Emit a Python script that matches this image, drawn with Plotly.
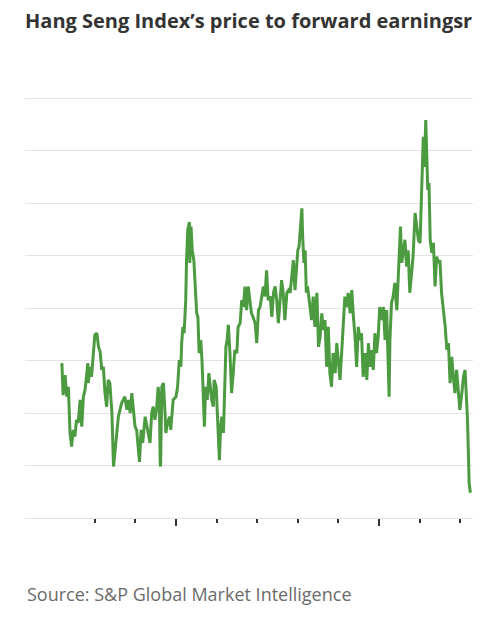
import pandas as pd
import plotly.graph_objects as go

# Hang Seng Index forward P/E (date as fractional year)
years = [
    2012.19, 2012.22, 2012.27, 2012.31, 2012.35, 2012.39, 2012.43, 2012.47, 2012.51, 2012.55,
    2012.59, 2012.64, 2012.68, 2012.72, 2012.76, 2012.80, 2012.83, 2012.84, 2012.88, 2012.92,
    2012.96, 2013.00, 2013.05, 2013.09, 2013.13, 2013.17, 2013.21, 2013.25, 2013.29, 2013.33,
    2013.37, 2013.42, 2013.46, 2013.50, 2013.54, 2013.58, 2013.62, 2013.66, 2013.70, 2013.74,
    2013.79, 2013.83, 2013.87, 2013.91, 2013.95, 2013.99, 2014.03, 2014.07, 2014.10, 2014.14,
    2014.18, 2014.24, 2014.28, 2014.32, 2014.36, 2014.40, 2014.44, 2014.48, 2014.52, 2014.56,
    2014.59, 2014.61, 2014.62, 2014.65, 2014.69, 2014.73, 2014.75, 2014.79, 2014.84, 2014.87,
    2014.91, 2014.93, 2015.00, 2015.04, 2015.08, 2015.12, 2015.14, 2015.17, 2015.20, 2015.24,
    2015.26, 2015.29, 2015.33, 2015.34, 2015.37, 2015.40, 2015.44, 2015.48, 2015.51, 2015.54,
    2015.57, 2015.61, 2015.64, 2015.67, 2015.70, 2015.73, 2015.77, 2015.81, 2015.85, 2015.88,
    2015.92, 2015.94, 2015.99, 2016.01, 2016.03, 2016.07, 2016.10, 2016.13, 2016.17, 2016.20,
    2016.23, 2016.26, 2016.29, 2016.33, 2016.37, 2016.41, 2016.45, 2016.50, 2016.53, 2016.58,
    2016.62, 2016.66, 2016.70, 2016.74, 2016.78, 2016.82, 2016.86, 2016.90, 2016.95, 2016.99,
    2017.03, 2017.07, 2017.11, 2017.15, 2017.19, 2017.23, 2017.27, 2017.32, 2017.36, 2017.40,
    2017.44, 2017.48, 2017.52, 2017.56, 2017.60, 2017.64, 2017.68, 2017.73, 2017.77, 2017.81,
    2017.85, 2017.89, 2017.93, 2017.97, 2018.00, 2018.03, 2018.07, 2018.10, 2018.12, 2018.15,
    2018.18, 2018.21, 2018.24, 2018.28, 2018.34, 2018.38, 2018.42, 2018.47, 2018.51, 2018.55,
    2018.59, 2018.63, 2018.67, 2018.71, 2018.75, 2018.79, 2018.83, 2018.87, 2018.92, 2018.96,
    2019.00, 2019.04, 2019.08, 2019.12, 2019.16, 2019.20, 2019.24, 2019.29, 2019.33, 2019.37,
    2019.41, 2019.45, 2019.49, 2019.53, 2019.57, 2019.61, 2019.66, 2019.70, 2019.74, 2019.78,
    2019.82, 2019.86, 2019.90, 2019.94, 2019.98, 2020.02, 2020.07, 2020.11, 2020.15, 2020.19,
    2020.23, 2020.25, 2020.27, 2020.31, 2020.35, 2020.39, 2020.44, 2020.48, 2020.53, 2020.56,
    2020.60, 2020.64, 2020.68, 2020.72, 2020.76, 2020.81, 2020.84, 2020.89, 2020.93, 2020.97,
    2021.01, 2021.05, 2021.09, 2021.12, 2021.15, 2021.17, 2021.20, 2021.23, 2021.26, 2021.30,
    2021.34, 2021.38, 2021.42, 2021.46, 2021.50, 2021.54, 2021.58, 2021.63, 2021.67, 2021.71,
    2021.75, 2021.79, 2021.83, 2021.87, 2021.91, 2021.95, 2021.99, 2022.04, 2022.08, 2022.12,
    2022.15, 2022.18, 2022.22, 2022.25,
]
pe = [
    8.95, 8.34, 8.72, 8.31, 8.50, 7.62, 7.36, 7.68, 7.55, 7.87,
    7.81, 8.25, 7.74, 8.31, 8.44, 8.76, 8.95, 8.57, 8.88, 8.69,
    9.01, 9.49, 9.52, 9.26, 9.17, 8.82, 8.88, 8.38, 8.12, 8.63,
    8.57, 8.00, 6.98, 7.30, 7.68, 7.93, 8.06, 8.19, 8.25, 8.31,
    8.06, 8.25, 8.00, 8.38, 8.06, 7.74, 7.68, 7.30, 7.07, 7.68,
    7.43, 7.93, 7.74, 7.62, 7.43, 8.00, 8.12, 7.87, 8.06, 8.50,
    8.25, 7.05, 6.98, 8.50, 8.57, 8.00, 7.62, 7.81, 7.93, 7.68,
    8.00, 8.25, 8.31, 8.50, 9.01, 8.88, 9.33, 9.64, 9.52, 10.15,
    10.91, 11.49, 11.64, 10.86, 11.55, 11.10, 10.91, 10.41, 9.90, 9.83,
    9.14, 9.39, 9.01, 8.38, 7.74, 8.50, 8.25, 8.76, 8.50, 8.25,
    8.12, 8.63, 8.50, 8.12, 7.74, 7.10, 7.74, 7.93, 7.62, 8.25,
    9.26, 9.39, 9.68, 9.14, 8.38, 8.76, 9.20, 9.14, 9.64, 9.71,
    10.15, 10.02, 10.41, 9.96, 10.41, 10.15, 9.90, 9.83, 9.71, 9.33,
    9.96, 10.02, 10.22, 10.41, 10.22, 10.72, 10.15, 10.22, 9.83, 10.29,
    10.41, 10.15, 9.71, 10.22, 10.53, 10.29, 9.77, 10.29, 10.34, 10.29,
    10.67, 10.91, 10.34, 10.79, 11.10, 11.17, 11.68, 11.90, 11.36, 10.86,
    11.10, 10.29, 10.41, 10.15, 9.77, 10.22, 9.64, 10.29, 9.26, 9.45,
    9.90, 9.58, 9.77, 8.88, 9.64, 8.76, 8.50, 9.14, 8.76, 9.33,
    8.88, 8.63, 9.14, 9.77, 10.22, 10.02, 10.29, 9.90, 10.34, 9.83,
    9.45, 8.88, 9.64, 9.39, 9.52, 8.69, 9.14, 8.63, 9.33, 8.88,
    9.20, 8.82, 9.52, 9.14, 9.45, 10.02, 9.77, 10.02, 9.39, 9.96,
    8.63, 8.31, 9.39, 10.10, 10.22, 10.48, 9.96, 10.72, 11.55, 10.86,
    11.05, 11.30, 10.79, 11.10, 10.29, 10.72, 10.98, 11.81, 11.55, 11.30,
    11.24, 12.31, 13.26, 12.69, 13.58, 13.07, 12.25, 12.38, 11.30, 11.05,
    11.24, 10.41, 10.98, 10.86, 10.91, 10.29, 10.02, 9.64, 9.20, 9.33,
    8.57, 9.07, 8.69, 8.38, 8.82, 8.50, 8.06, 8.38, 8.69, 8.82,
    8.25, 7.87, 6.67, 6.48,
]
tick_years = list(range(2013, 2023))
major_years = [2015, 2020]

GREEN = "#4c9b41"
GRID = "#e3e3e3"
FONT = "Open Sans"

# the page has an 8px body margin, so the figure is 8px smaller and margins shifted
W, H = 485, 610


def frac_to_date(y):
    yr = int(y)
    return pd.Timestamp(year=yr, month=1, day=1) + pd.Timedelta(days=(y - yr) * 365.25)


dates = [frac_to_date(y) for y in years]

fig = go.Figure(
    go.Scatter(
        x=dates,
        y=pe,
        mode="lines",
        line=dict(color=GREEN, width=3),
        hoverinfo="x+y",
    )
)

fig.update_layout(
    width=W,
    height=H,
    margin=dict(l=17, r=20, t=89, b=100),
    paper_bgcolor="white",
    plot_bgcolor="white",
    showlegend=False,
    font=dict(family=FONT, color="#333333"),
    title=dict(
        text="<b>Hang Seng Index’s price to forward earningsr</b>",
        x=17 / W,
        xanchor="left",
        xref="container",
        y=1 - 13 / H,
        yanchor="middle",
        yref="container",
        font=dict(family=FONT, size=20, color="#333333"),
    ),
)

fig.update_xaxes(
    type="date",
    range=[frac_to_date(2011.281), frac_to_date(2022.315)],
    showgrid=False,
    zeroline=False,
    showline=True,
    linecolor=GRID,
    linewidth=1,
    showticklabels=False,
    tickmode="array",
    tickvals=[pd.Timestamp(year=y, month=1, day=1) for y in major_years],
    ticks="outside",
    ticklen=7,
    tickwidth=1.5,
    tickcolor="#333333",
    minor=dict(
        tickmode="array",
        tickvals=[pd.Timestamp(year=y, month=1, day=1) for y in tick_years],
        ticks="outside",
        ticklen=4,
        tickwidth=1.5,
        tickcolor="#333333",
        showgrid=False,
    ),
)

fig.update_yaxes(
    range=[6, 14.02],
    tick0=6,
    dtick=1,
    showgrid=True,
    gridcolor=GRID,
    gridwidth=1,
    zeroline=False,
    showticklabels=False,
    ticks="",
)

fig.add_annotation(
    text="Source: S&P Global Market Intelligence",
    xref="paper",
    yref="paper",
    x=0,
    xanchor="left",
    y=-76 / 421,
    yanchor="middle",
    showarrow=False,
    font=dict(family=FONT, size=18, color="#6b6b6b"),
)

fig.write_html("out.html")
